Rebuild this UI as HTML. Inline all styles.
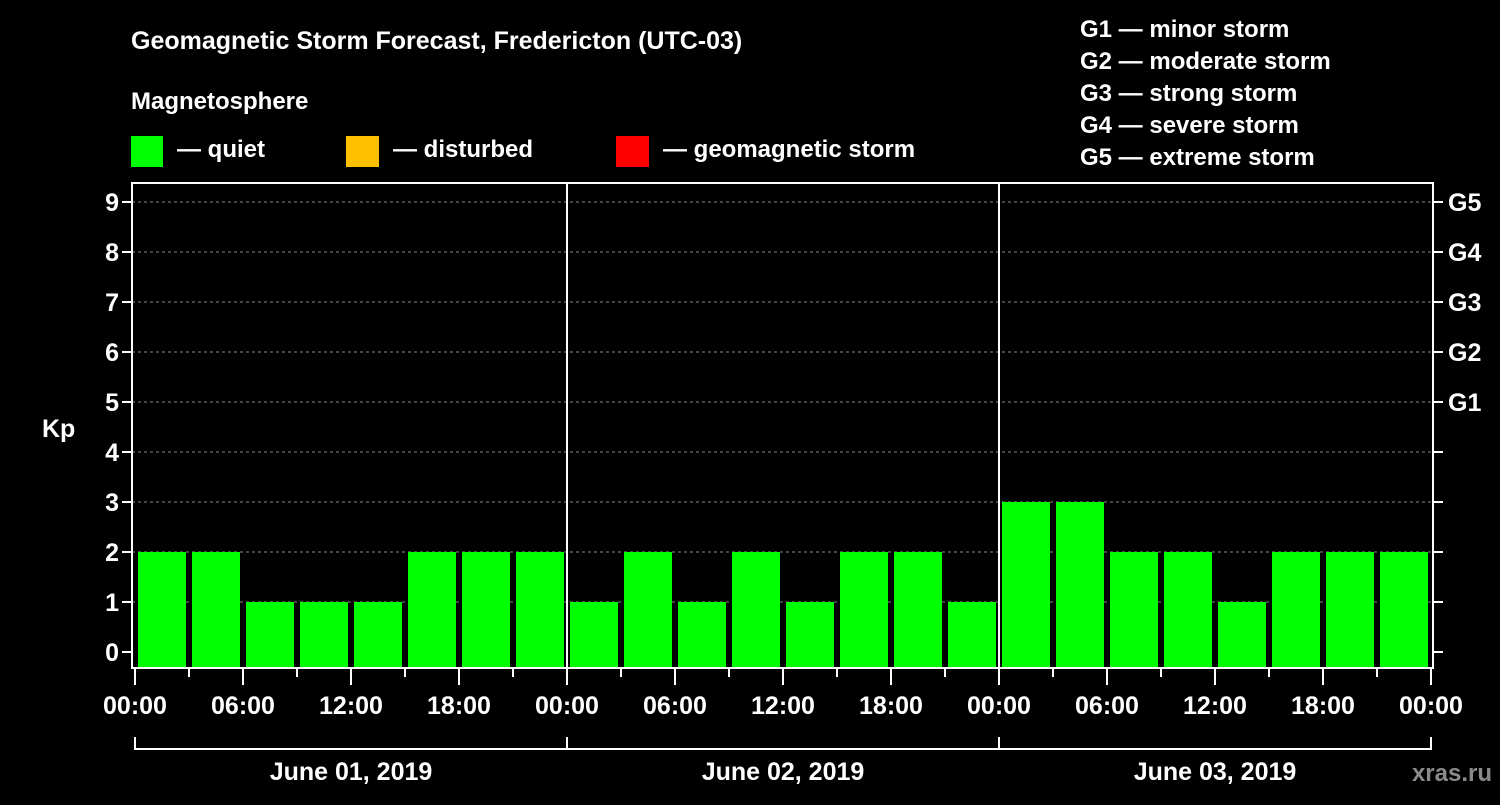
<!DOCTYPE html>
<html><head><meta charset="utf-8"><style>
body{margin:0;background:#000;width:1500px;height:800px;overflow:hidden;font-family:"Liberation Sans",sans-serif;}
svg text{font-family:"Liberation Sans",sans-serif;font-weight:bold;fill:#fff;}
</style></head><body>
<svg id="c" width="1500" height="800">
<text x="131" y="49" font-size="25">Geomagnetic Storm Forecast, Fredericton (UTC-03)</text>
<text x="131" y="109" font-size="24">Magnetosphere</text>
<g><rect x="131" y="136" width="32" height="31" fill="#00ff00"/><text x="177" y="157" font-size="24">— quiet</text></g>
<g><rect x="346" y="136" width="33" height="31" fill="#ffc000"/><text x="393" y="157" font-size="24">— disturbed</text></g>
<g><rect x="616" y="136" width="33" height="31" fill="#ff0000"/><text x="663" y="157" font-size="24">— geomagnetic storm</text></g>
<g font-size="24">
<text x="1080" y="37">G1 — minor storm</text>
<text x="1080" y="69">G2 — moderate storm</text>
<text x="1080" y="101">G3 — strong storm</text>
<text x="1080" y="133">G4 — severe storm</text>
<text x="1080" y="165">G5 — extreme storm</text>
</g>
<text x="42" y="437" font-size="25">Kp</text>
<text x="1492" y="781" font-size="24" text-anchor="end" fill="#888" style="fill:#8a8a8a">xras.ru</text>
<g id="g"></g>
</svg>
<script>
const days=["June 01, 2019","June 02, 2019","June 03, 2019"];
const kpValues=[2,2,1,1,1,2,2,2, 1,2,1,2,1,2,2,1, 3,3,2,2,1,2,2,2];
const yTicks=[0,1,2,3,4,5,6,7,8,9];
const gLabels={5:"G1",6:"G2",7:"G3",8:"G4",9:"G5"};
const xLabels=["00:00","06:00","12:00","18:00"];
const NS="http://www.w3.org/2000/svg";
const g=document.getElementById('g');
const L=132,R=1433,T=183,B=668,X0=135,dayW=432;
const slot=dayW/8;
const y=v=>652-v*50;
const x=i=>X0+i*slot;
function mk(t,a){const e=document.createElementNS(NS,t);for(const k in a)e.setAttribute(k,a[k]);g.appendChild(e);return e;}
yTicks.forEach(v=>{
 if(v>0){const gl=mk('line',{x1:L,x2:R,y1:y(v),y2:y(v),stroke:'#888','stroke-dasharray':'3,3','stroke-width':1});
 
 }
 const t=mk('line',{x1:L-10,x2:L,y1:y(v),y2:y(v),stroke:'#fff','stroke-width':2});
 
 
 const l=mk('text',{x:L-13,y:y(v)+9,'text-anchor':'end','font-size':25});l.textContent=v;
 
 
 const rt=mk('line',{x1:R,x2:R+10,y1:y(v),y2:y(v),stroke:'#fff','stroke-width':2});
 
 
 if(gLabels[v]){const gt=mk('text',{x:R+15,y:y(v)+9,'font-size':25});gt.textContent=gLabels[v];
 
 }
});
kpValues.forEach((v,i)=>{
 const c=v>=5?'#ff0000':(v>=4?'#ffc000':'#00ff00');
 const r=mk('rect',{x:x(i)+3,y:y(v),width:slot-6,height:B-y(v),fill:c});
 
 
});
for(let d=1;d<days.length;d++){const s=mk('line',{x1:x(d*8),x2:x(d*8),y1:T,y2:B,stroke:'#fff','stroke-width':2});
 
 }
const fr=mk('rect',{x:L,y:T,width:R-L,height:B-T,fill:'none',stroke:'#fff','stroke-width':2});


for(let i=0;i<=kpValues.length;i++){
 const major=i%2==0;
 const t=mk('line',{x1:x(i),x2:x(i),y1:B,y2:B+(major?17:9),stroke:'#fff','stroke-width':2});
 
 
 if(major){const l=mk('text',{x:x(i),y:714,'text-anchor':'middle','font-size':25});l.textContent=xLabels[(i/2)%4];
 
 }
}
days.forEach((d,k)=>{
 const a=x(k*8),b=x(k*8+8);
 const p=mk('path',{d:`M${a},737V749H${b}V737`,fill:'none',stroke:'#fff','stroke-width':2});
 
 
 const t=mk('text',{x:(a+b)/2,y:780,'text-anchor':'middle','font-size':25});t.textContent=d;
 
 
});
</script>
</body></html>
